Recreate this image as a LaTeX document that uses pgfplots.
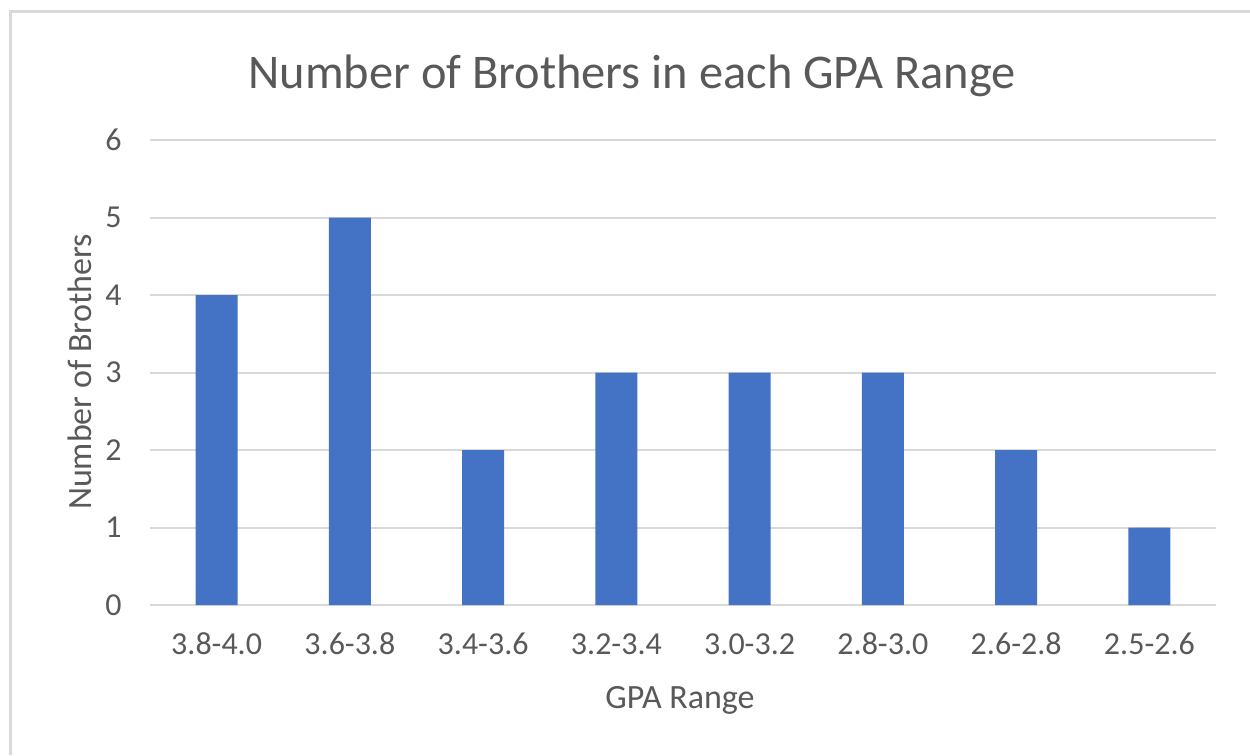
\documentclass[border=0pt]{standalone}
\usepackage{pgfplots}
\pgfplotsset{compat=1.18}
\usepackage{fontspec}
\setmainfont{Carlito}
\definecolor{barblue}{HTML}{4472C4}
\definecolor{gridgray}{HTML}{D9D9D9}
\definecolor{txtgray}{HTML}{595959}
\begin{document}
\begin{tikzpicture}[x=1bp,y=1bp]
\path[use as bounding box, fill=white] (0,0) rectangle (625,377.5);
\draw[gridgray, line width=1.5bp] (5,0) -- (5,371.5) -- (625,371.5);
\begin{axis}[
  at={(75bp,75bp)}, anchor=south west,
  scale only axis, width=533bp, height=232.5bp,
  xmin=-0.5, xmax=7.5, ymin=0, ymax=6,
  ytick={0,1,2,3,4,5,6},
  xtick=data,
  xticklabels={3.8-4.0,3.6-3.8,3.4-3.6,3.2-3.4,3.0-3.2,2.8-3.0,2.6-2.8,2.5-2.6},
  axis line style={draw=none},
  major tick length=0,
  ymajorgrids, grid style={gridgray, line width=1bp},
  tick label style={font=\fontsize{16bp}{18bp}\selectfont, text=txtgray, inner sep=0pt},
  /pgf/number format/assume math mode=true,
  xticklabel style={anchor=base, yshift=-24.5bp},
  yticklabel style={anchor=east, xshift=-14bp},
  clip=false,
]
\draw[gridgray, line width=1.3bp] (axis cs:-0.5,0) -- (axis cs:7.5,0);
\addplot[ybar, bar width=21bp, fill=barblue, draw=none] coordinates {
(0,4) (1,5) (2,2) (3,3) (4,3) (5,3) (6,2) (7,1)};
\end{axis}
\node[anchor=base, text=txtgray, font=\fontsize{24.2bp}{28bp}\selectfont, inner sep=0pt] at (316,333.5) {Number of Brothers in each GPA Range};
\node[anchor=base, text=txtgray, font=\fontsize{17bp}{20bp}\selectfont, inner sep=0pt] at (340,23.5) {GPA Range};
\node[rotate=90, text=txtgray, font=\fontsize{17bp}{20bp}\selectfont, inner sep=0pt] at (40,191.5) {Number of Brothers};
\end{tikzpicture}
\end{document}
